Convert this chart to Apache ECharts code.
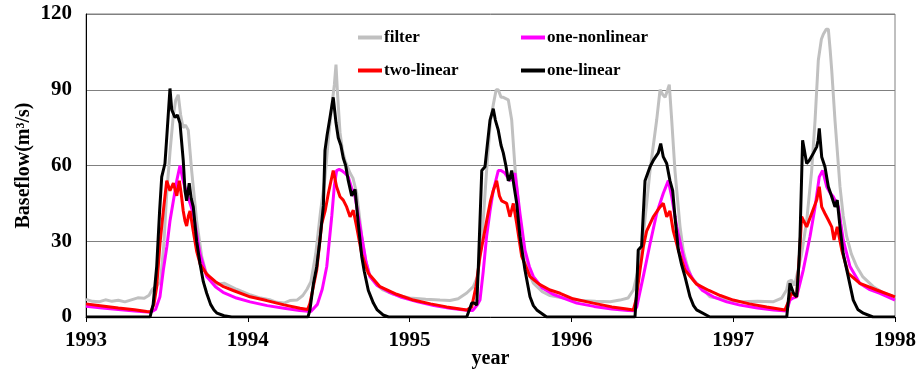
<!DOCTYPE html>
<html>
<head>
<meta charset="utf-8">
<title>baseflow</title>
<script src="https://cdn.jsdelivr.net/npm/echarts@6/dist/echarts.min.js"></script>
<style>
    html, body { margin: 0; padding: 0; background: #fff; }
    #chart { width: 918px; height: 373px; }
</style>
</head>
<body>
<div id="chart"></div>
<script>
// series names, in legend order (row by row)
const seriesNames = ['filter', 'one-nonlinear', 'two-linear', 'one-linear']
const seriesColors = ['#c0c0c0', '#ff00ff', '#ff0000', '#000000']

// [year, baseflow m3/s]
const filterData = [
    [1993.00, 7.0], [1993.04, 6.2], [1993.08, 6.0], [1993.12, 6.8], [1993.16, 6.2], [1993.20, 6.6], [1993.24, 6.0],
    [1993.28, 6.8], [1993.32, 7.6], [1993.36, 7.4], [1993.39, 8.6], [1993.41, 11], [1993.44, 12.5], [1993.46, 14],
    [1993.48, 28], [1993.50, 50], [1993.52, 66], [1993.54, 80], [1993.555, 86], [1993.57, 88], [1993.585, 80],
    [1993.60, 75], [1993.615, 76], [1993.632, 74], [1993.653, 58], [1993.684, 38], [1993.715, 24], [1993.74, 18],
    [1993.771, 14.6], [1993.81, 13], [1993.853, 13.4], [1993.93, 11], [1994.018, 8.7], [1994.08, 7.5], [1994.142, 6.7],
    [1994.18, 5.8], [1994.224, 5.5], [1994.26, 6.5], [1994.304, 6.7], [1994.34, 8.5], [1994.366, 11], [1994.39, 14],
    [1994.42, 25], [1994.45, 42], [1994.477, 55], [1994.50, 72], [1994.52, 84], [1994.535, 92], [1994.545, 100],
    [1994.555, 88], [1994.57, 73], [1994.585, 66], [1994.601, 62], [1994.632, 57], [1994.65, 55], [1994.673, 49],
    [1994.704, 32], [1994.73, 22], [1994.755, 16], [1994.80, 12.5], [1994.836, 10.7], [1994.90, 9], [1995.00, 7.5],
    [1995.10, 7], [1995.188, 6.7], [1995.25, 6.5], [1995.30, 7.2], [1995.353, 9.5], [1995.394, 12], [1995.42, 16],
    [1995.446, 30], [1995.476, 58], [1995.50, 78], [1995.517, 84], [1995.535, 90], [1995.548, 90], [1995.565, 87],
    [1995.579, 87], [1995.61, 86], [1995.631, 78], [1995.651, 59.5], [1995.682, 38], [1995.713, 24], [1995.74, 17],
    [1995.765, 13.4], [1995.82, 10], [1995.868, 8.5], [1995.95, 7.5], [1996.05, 6.5], [1996.15, 6.2], [1996.24, 6],
    [1996.30, 6.7], [1996.35, 7.5], [1996.383, 10.7], [1996.41, 18], [1996.444, 32], [1996.486, 58], [1996.527, 78],
    [1996.548, 90], [1996.565, 88], [1996.579, 87], [1996.595, 90], [1996.605, 92], [1996.62, 78], [1996.64, 58],
    [1996.671, 36], [1996.692, 26], [1996.713, 21], [1996.74, 16], [1996.774, 13.4], [1996.814, 11], [1996.856, 8],
    [1996.898, 7.5], [1996.96, 6.7], [1997.05, 6], [1997.15, 6.2], [1997.246, 6], [1997.30, 7.5], [1997.33, 10.7],
    [1997.341, 14], [1997.361, 14.6], [1997.38, 12.5], [1997.392, 12], [1997.423, 25], [1997.454, 38], [1997.485, 58],
    [1997.506, 78], [1997.526, 101.7], [1997.545, 110], [1997.557, 112], [1997.575, 114], [1997.588, 114],
    [1997.599, 106], [1997.609, 97.7], [1997.629, 78], [1997.66, 51.6], [1997.68, 40], [1997.701, 32], [1997.73, 25],
    [1997.763, 20], [1997.80, 16], [1997.866, 12], [1997.93, 9.5], [1998.00, 8]
]

const oneNonlinearData = [
    [1993.00, 4.3], [1993.10, 3.6], [1993.20, 3.0], [1993.30, 2.4], [1993.40, 1.9], [1993.43, 3], [1993.457, 8],
    [1993.478, 18.6], [1993.50, 28], [1993.519, 38], [1993.54, 46], [1993.561, 54], [1993.581, 60], [1993.60, 54],
    [1993.622, 49], [1993.643, 45], [1993.663, 41], [1993.684, 33], [1993.705, 25], [1993.746, 16], [1993.80, 12],
    [1993.847, 9.8], [1993.93, 7.5], [1994.014, 6], [1994.12, 4.5], [1994.224, 3.5], [1994.32, 2.6], [1994.39, 2.2],
    [1994.43, 5], [1994.46, 11], [1994.488, 20], [1994.519, 40], [1994.535, 52], [1994.549, 58], [1994.565, 58.5],
    [1994.58, 58], [1994.60, 57], [1994.621, 55.5], [1994.642, 51], [1994.663, 47.6], [1994.683, 40], [1994.704, 32],
    [1994.73, 22], [1994.755, 16], [1994.80, 12.5], [1994.87, 10], [1994.95, 7.8], [1995.05, 6], [1995.15, 4.5],
    [1995.25, 3.5], [1995.35, 2.7], [1995.39, 2.6],
    [1995.415, 4.5], [1995.435, 6.7], [1995.455, 18], [1995.476, 32], [1995.497, 42], [1995.517, 50], [1995.548, 58],
    [1995.565, 58], [1995.589, 57], [1995.62, 54], [1995.635, 55], [1995.651, 57], [1995.665, 50], [1995.682, 41],
    [1995.713, 26.5], [1995.74, 20], [1995.765, 16], [1995.82, 11.5], [1995.886, 9], [1995.95, 7.5], [1996.033, 5.5],
    [1996.14, 4.2], [1996.25, 3.2], [1996.35, 2.6], [1996.39, 2.5],
    [1996.404, 4], [1996.444, 16], [1996.486, 29], [1996.527, 41], [1996.568, 49], [1996.599, 54], [1996.62, 47.6],
    [1996.651, 35.7], [1996.692, 24], [1996.72, 18.5], [1996.754, 14.6], [1996.81, 10.5], [1996.877, 8], [1996.96, 6],
    [1997.042, 4.7], [1997.15, 3.6], [1997.25, 2.8], [1997.33, 2.4],
    [1997.351, 6.7], [1997.37, 7.5], [1997.392, 8], [1997.433, 18.6], [1997.475, 32], [1997.506, 43.6], [1997.532, 55.5],
    [1997.553, 58], [1997.578, 51.6], [1997.60, 49], [1997.619, 47.6], [1997.65, 43.6], [1997.665, 37], [1997.68, 30.5],
    [1997.722, 20], [1997.783, 13.3], [1997.84, 11], [1997.907, 9.4], [1998.00, 6.7]
]

const twoLinearData = [
    [1993.00, 5.2], [1993.10, 4.4], [1993.20, 3.6], [1993.30, 2.9], [1993.375, 2.2], [1993.40, 2.1], [1993.42, 5],
    [1993.437, 12], [1993.457, 29], [1993.478, 42], [1993.499, 54], [1993.519, 50], [1993.54, 53], [1993.561, 48],
    [1993.577, 54], [1993.59, 48], [1993.601, 42], [1993.612, 38], [1993.622, 36], [1993.633, 40], [1993.643, 42],
    [1993.663, 34], [1993.684, 26], [1993.705, 21], [1993.746, 17], [1993.80, 14], [1993.85, 12], [1993.91, 10.5],
    [1994.014, 8], [1994.117, 6.5], [1994.224, 4.8], [1994.323, 3.5], [1994.37, 3],
    [1994.384, 5.4], [1994.405, 12], [1994.426, 18.6], [1994.457, 37], [1994.478, 42], [1994.498, 49], [1994.528, 58],
    [1994.549, 51.6], [1994.57, 47.6], [1994.59, 46.3], [1994.611, 43.6], [1994.632, 39.7], [1994.652, 42.3],
    [1994.673, 35.7], [1994.704, 25], [1994.745, 17.3], [1994.817, 12], [1994.92, 9], [1995.023, 6.7], [1995.13, 5.2],
    [1995.229, 4], [1995.353, 2.8],
    [1995.384, 4], [1995.41, 12], [1995.435, 24], [1995.476, 38], [1995.50, 46], [1995.517, 50], [1995.538, 54],
    [1995.555, 48], [1995.569, 46], [1995.60, 45], [1995.62, 39.7], [1995.641, 45], [1995.662, 37], [1995.693, 24],
    [1995.744, 16], [1995.80, 13], [1995.868, 10.7], [1995.93, 9.4], [1996.01, 7.2], [1996.135, 5.5], [1996.25, 4],
    [1996.342, 3.2], [1996.383, 2.8],
    [1996.40, 7], [1996.424, 18.6], [1996.445, 28], [1996.465, 34], [1996.506, 39.7], [1996.548, 43.6], [1996.568, 45],
    [1996.589, 39.7], [1996.609, 42], [1996.63, 34], [1996.661, 26.5], [1996.702, 18.6], [1996.774, 13], [1996.85, 10.5],
    [1996.92, 8.5], [1997.00, 6.7], [1997.10, 5.2], [1997.207, 4], [1997.32, 2.8],
    [1997.341, 6], [1997.361, 9.5], [1997.392, 8], [1997.41, 25], [1997.423, 39.7], [1997.454, 35.7], [1997.485, 41],
    [1997.516, 46.3], [1997.532, 51.6], [1997.547, 43.6], [1997.567, 41], [1997.588, 38.4], [1997.609, 35.7],
    [1997.623, 30.5], [1997.643, 35.7], [1997.671, 26.5], [1997.711, 17.3], [1997.783, 13.3], [1997.887, 10.7],
    [1998.00, 8]
]

const oneLinearData = [
    [1993.00, 0], [1993.396, 0], [1993.415, 5], [1993.437, 20], [1993.455, 42], [1993.468, 55.5], [1993.488, 60.8],
    [1993.50, 72], [1993.519, 90.5], [1993.53, 82], [1993.55, 79], [1993.565, 80], [1993.581, 76.7], [1993.601, 62],
    [1993.612, 50], [1993.622, 46], [1993.638, 53], [1993.65, 47], [1993.663, 43.6], [1993.684, 30], [1993.705, 21],
    [1993.725, 14], [1993.746, 9.4], [1993.77, 5], [1993.791, 2.8], [1993.81, 1.5], [1993.853, 0.5], [1993.90, 0],
    [1994.372, 0], [1994.384, 2.8], [1994.405, 13], [1994.426, 20], [1994.445, 30], [1994.467, 44], [1994.477, 66],
    [1994.49, 72], [1994.508, 79], [1994.528, 87], [1994.545, 77], [1994.559, 71], [1994.575, 68], [1994.59, 63],
    [1994.605, 60], [1994.621, 54], [1994.642, 48], [1994.663, 50.5], [1994.683, 37], [1994.704, 24], [1994.72, 18],
    [1994.745, 10.5], [1994.776, 5.5], [1994.80, 2.8], [1994.836, 0.8], [1994.87, 0],
    [1995.353, 0], [1995.37, 3], [1995.384, 5.5], [1995.40, 5.5], [1995.415, 4.7], [1995.425, 20], [1995.446, 58],
    [1995.466, 59.5], [1995.48, 68], [1995.497, 78], [1995.517, 82.5], [1995.53, 78], [1995.548, 74], [1995.565, 68],
    [1995.579, 65], [1995.595, 60], [1995.61, 54], [1995.62, 55], [1995.631, 58], [1995.645, 52], [1995.662, 45],
    [1995.682, 32], [1995.698, 25], [1995.713, 18.6], [1995.744, 8], [1995.765, 4.5], [1995.786, 2.8], [1995.847, 0],
    [1996.393, 0], [1996.403, 10], [1996.413, 26.5], [1996.434, 28], [1996.455, 54], [1996.486, 59.5], [1996.506, 62],
    [1996.537, 65], [1996.552, 68.7], [1996.568, 63.4], [1996.589, 60.8], [1996.609, 54], [1996.626, 50],
    [1996.64, 39.7], [1996.661, 26.5], [1996.68, 21], [1996.702, 16], [1996.733, 8], [1996.755, 4.5], [1996.774, 2.8],
    [1996.856, 0],
    [1997.331, 0], [1997.343, 8], [1997.351, 13.4], [1997.372, 9.5], [1997.392, 8], [1997.405, 20], [1997.413, 32],
    [1997.429, 70], [1997.44, 66], [1997.454, 60.8], [1997.47, 62], [1997.495, 64.8], [1997.516, 67.4], [1997.525, 70],
    [1997.532, 74.7], [1997.547, 63.4], [1997.567, 59.5], [1997.588, 51.6], [1997.609, 47.6], [1997.629, 43.6],
    [1997.643, 46.3], [1997.66, 35.7], [1997.68, 25], [1997.711, 16], [1997.742, 6.7], [1997.77, 3], [1997.804, 1.5],
    [1997.864, 0], [1998.00, 0]
]

const seriesData = [filterData, oneNonlinearData, twoLinearData, oneLinearData]

// legend spots (two rows x two columns inside the plot)
const legendSpots = [[358, 29], [521, 29], [358, 62], [521, 62]]

const font = 'Liberation Serif, Times New Roman, serif'

let chart = echarts.init(document.getElementById('chart'))

chart.setOption({
    animation: false,
    backgroundColor: '#fff',
    grid: {
        left: 86, right: 23, top: 14, bottom: 56,
        outerBoundsMode: 'none',
        containLabel: false,
        show: true, borderColor: '#808080', borderWidth: 1
    },
    legend: seriesNames.map((name, i) => ({
        data: [name],
        left: legendSpots[i][0],
        top: legendSpots[i][1],
        padding: 0,
        icon: 'rect',
        itemWidth: 24,
        itemHeight: 4,
        itemGap: 0,
        textStyle: {fontFamily: font, fontWeight: 'bold', fontSize: 17, color: '#000', padding: [0, 0, 0, -3]}
    })),
    xAxis: {
        type: 'value',
        min: 1993, max: 1998, interval: 1,
        name: 'year',
        nameLocation: 'middle',
        nameGap: 32,
        nameMoveOverlap: false,
        nameTextStyle: {fontFamily: font, fontWeight: 'bold', fontSize: 20, color: '#000'},
        axisLine: {show: true, lineStyle: {color: '#000', width: 1}},
        axisTick: {show: true, length: 5, lineStyle: {color: '#000'}},
        axisLabel: {
            fontFamily: font, fontWeight: 'bold', fontSize: 21, color: '#000', margin: 13,
            formatter: (v) => String(v)
        },
        splitLine: {show: false}
    },
    yAxis: {
        type: 'value',
        min: 0, max: 120, interval: 30,
        name: 'Baseflow(m³/s)',
        nameLocation: 'middle',
        nameGap: 52,
        nameMoveOverlap: false,
        nameTextStyle: {fontFamily: font, fontWeight: 'bold', fontSize: 20, color: '#000'},
        axisLine: {show: true, lineStyle: {color: '#000', width: 1}},
        axisTick: {show: false},
        axisLabel: {fontFamily: font, fontWeight: 'bold', fontSize: 21, color: '#000', margin: 14},
        splitLine: {show: true, lineStyle: {color: '#808080', width: 1}}
    },
    series: seriesNames.map((name, i) => ({
        name: name,
        type: 'line',
        data: seriesData[i],
        showSymbol: false,
        symbol: 'none',
        lineStyle: {color: seriesColors[i], width: 3},
        itemStyle: {color: seriesColors[i]},
        z: 2 + i
    }))
})
</script>
</body>
</html>
